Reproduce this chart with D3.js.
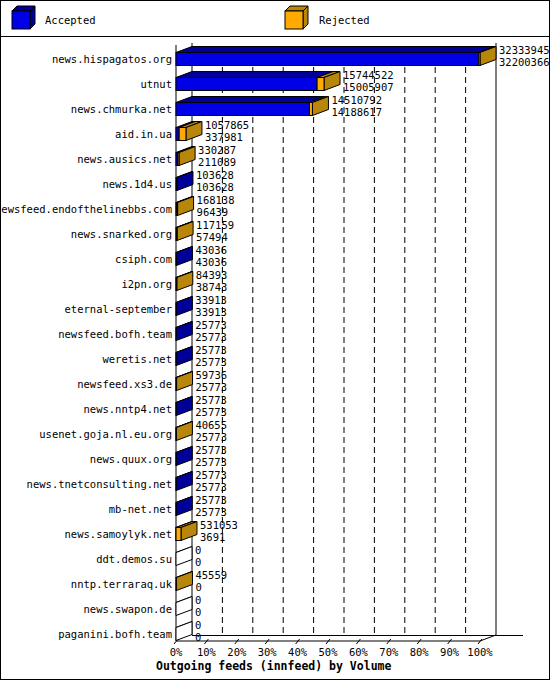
<!DOCTYPE html><html><head><meta charset="utf-8"><script src="https://cdn.jsdelivr.net/npm/d3@7"></script>
<style>body{margin:0;background:#fff}text{font-family:"DejaVu Sans Mono",monospace;font-size:10.5px}</style></head><body><svg id="c" width="550" height="680"></svg>
<script>
const names=["news.hispagatos.org","utnut","news.chmurka.net","aid.in.ua","news.ausics.net","news.1d4.us","newsfeed.endofthelinebbs.com","news.snarked.org","csiph.com","i2pn.org","eternal-september","newsfeed.bofh.team","weretis.net","newsfeed.xs3.de","news.nntp4.net","usenet.goja.nl.eu.org","news.quux.org","news.tnetconsulting.net","mb-net.net","news.samoylyk.net","ddt.demos.su","nntp.terraraq.uk","news.swapon.de","paganini.bofh.team"];
const total=[32333945,15744522,14510792,1057865,330287,103628,168138,117159,43036,84393,33913,25773,25773,59736,25773,40655,25773,25773,25773,531053,0,45559,0,0];
const accepted=[32200366,15005907,14188617,337981,211089,103628,96439,57494,43036,38743,33913,25773,25773,25773,25773,25773,25773,25773,25773,3691,0,0,0,0];
const ticks=[0,10,20,30,40,50,60,70,80,90,100];
const legend=["Accepted","Rejected"];
const svg=d3.select("#c");
const DX=16,DY=-6,H=13;
const x=d3.scaleLinear().domain([0,d3.max(total)]).range([176,480]);
const p=d3.scaleLinear().domain([0,100]).range([176,480]);
const y=d3.scalePoint().domain(names).range([59,634]);
svg.append("rect").attr("x",0.5).attr("y",0.5).attr("width",549).attr("height",679).attr("fill","#fff").attr("stroke","#000");
svg.append("line").attr("x1",0).attr("x2",550).attr("y1",36.5).attr("y2",36.5).attr("stroke","#000");
const cols=[["#0000e6","#000099"],["#ffaa00","#b8860b"]];
[[12,45],[285,319]].forEach((pos,i)=>{
 const lx=pos[0],ly=11,s=18,d=5;
 svg.append("path").attr("d",`M${lx},${ly}L${lx+d},${ly-d}L${lx+s+d},${ly-d}L${lx+s},${ly}Z`).attr("fill",cols[i][1]).attr("stroke","#000");
 svg.append("path").attr("d",`M${lx+s},${ly}L${lx+s+d},${ly-d}L${lx+s+d},${ly+s-d}L${lx+s},${ly+s}Z`).attr("fill",cols[i][1]).attr("stroke","#000");
 svg.append("rect").attr("x",lx).attr("y",ly).attr("width",s).attr("height",s).attr("fill",cols[i][0]).attr("stroke","#000");
 svg.append("text").attr("x",pos[1]).attr("y",24).text(legend[i]);
});
const topY=43,floorB=635,floorF=641;
svg.append("line").attr("x1",176+DX).attr("x2",176+DX).attr("y1",topY).attr("y2",floorB).attr("stroke","#000");
svg.append("line").attr("x1",480+DX).attr("x2",480+DX).attr("y1",topY).attr("y2",floorB).attr("stroke","#000");
ticks.slice(1,-1).forEach(t=>svg.append("line").attr("x1",p(t)+DX).attr("x2",p(t)+DX).attr("y1",topY+4).attr("y2",floorB).attr("stroke","#000").attr("stroke-dasharray","6,4"));
svg.append("line").attr("x1",176+DX).attr("x2",523).attr("y1",floorB+.5).attr("y2",floorB+.5).attr("stroke","#000");
svg.append("path").attr("d",`M176,${floorF}L480,${floorF}L${480+DX},${floorB}`).attr("fill","none").attr("stroke","#000");
svg.append("line").attr("x1",176).attr("x2",176).attr("y1",45).attr("y2",floorF).attr("stroke","#000");
ticks.forEach(t=>{
 svg.append("line").attr("x1",p(t)-2).attr("x2",p(t)+2).attr("y1",floorF+3).attr("y2",floorF-2).attr("stroke","#000");
 svg.append("text").attr("x",p(t)).attr("y",656).attr("text-anchor","middle").text(t+"%");
});
svg.append("text").attr("x",156).attr("y",670).style("font-weight","bold").style("font-size","11.5px").text("Outgoing feeds (innfeed) by Volume");
names.forEach((n,i)=>{
 const cy=y(n),y0=cy-H/2,x0=x(0),xa=x(accepted[i]),xt=x(total[i]);
 const g=svg.append("g");
 const rej=total[i]>accepted[i];
 const sideCol=rej?"#b8860b":"#000099";
 if(xa>x0) g.append("path").attr("d",`M${x0},${y0}L${x0+DX},${y0+DY}L${xa+DX},${y0+DY}L${xa},${y0}Z`).attr("fill","#000099").attr("stroke","#000");
 if(xt>xa) g.append("path").attr("d",`M${xa},${y0}L${xa+DX},${y0+DY}L${xt+DX},${y0+DY}L${xt},${y0}Z`).attr("fill","#b8860b").attr("stroke","#000");
 if(xt==x0) g.append("line").attr("x1",x0).attr("y1",y0).attr("x2",x0+DX).attr("y2",y0+DY).attr("stroke","#000");
 g.append("path").attr("d",`M${xt},${y0}L${xt+DX},${y0+DY}L${xt+DX},${y0+H+DY}L${xt},${y0+H}Z`).attr("fill",total[i]==0?"#fff":sideCol).attr("stroke","#000");
 if(xa>x0) g.append("rect").attr("x",x0).attr("y",y0).attr("width",xa-x0).attr("height",H).attr("fill","#0000e6").attr("stroke","#000");
 if(xt>xa) g.append("rect").attr("x",xa).attr("y",y0).attr("width",xt-xa).attr("height",H).attr("fill","#ffaa00").attr("stroke","#000");
 svg.append("text").attr("x",172).attr("y",cy+4).attr("text-anchor","end").text(n);
 svg.append("text").attr("x",xt+DX+3).attr("y",cy-5).text(total[i]);
 svg.append("text").attr("x",xt+DX+3).attr("y",cy+7).text(accepted[i]);
});
</script></body></html>
